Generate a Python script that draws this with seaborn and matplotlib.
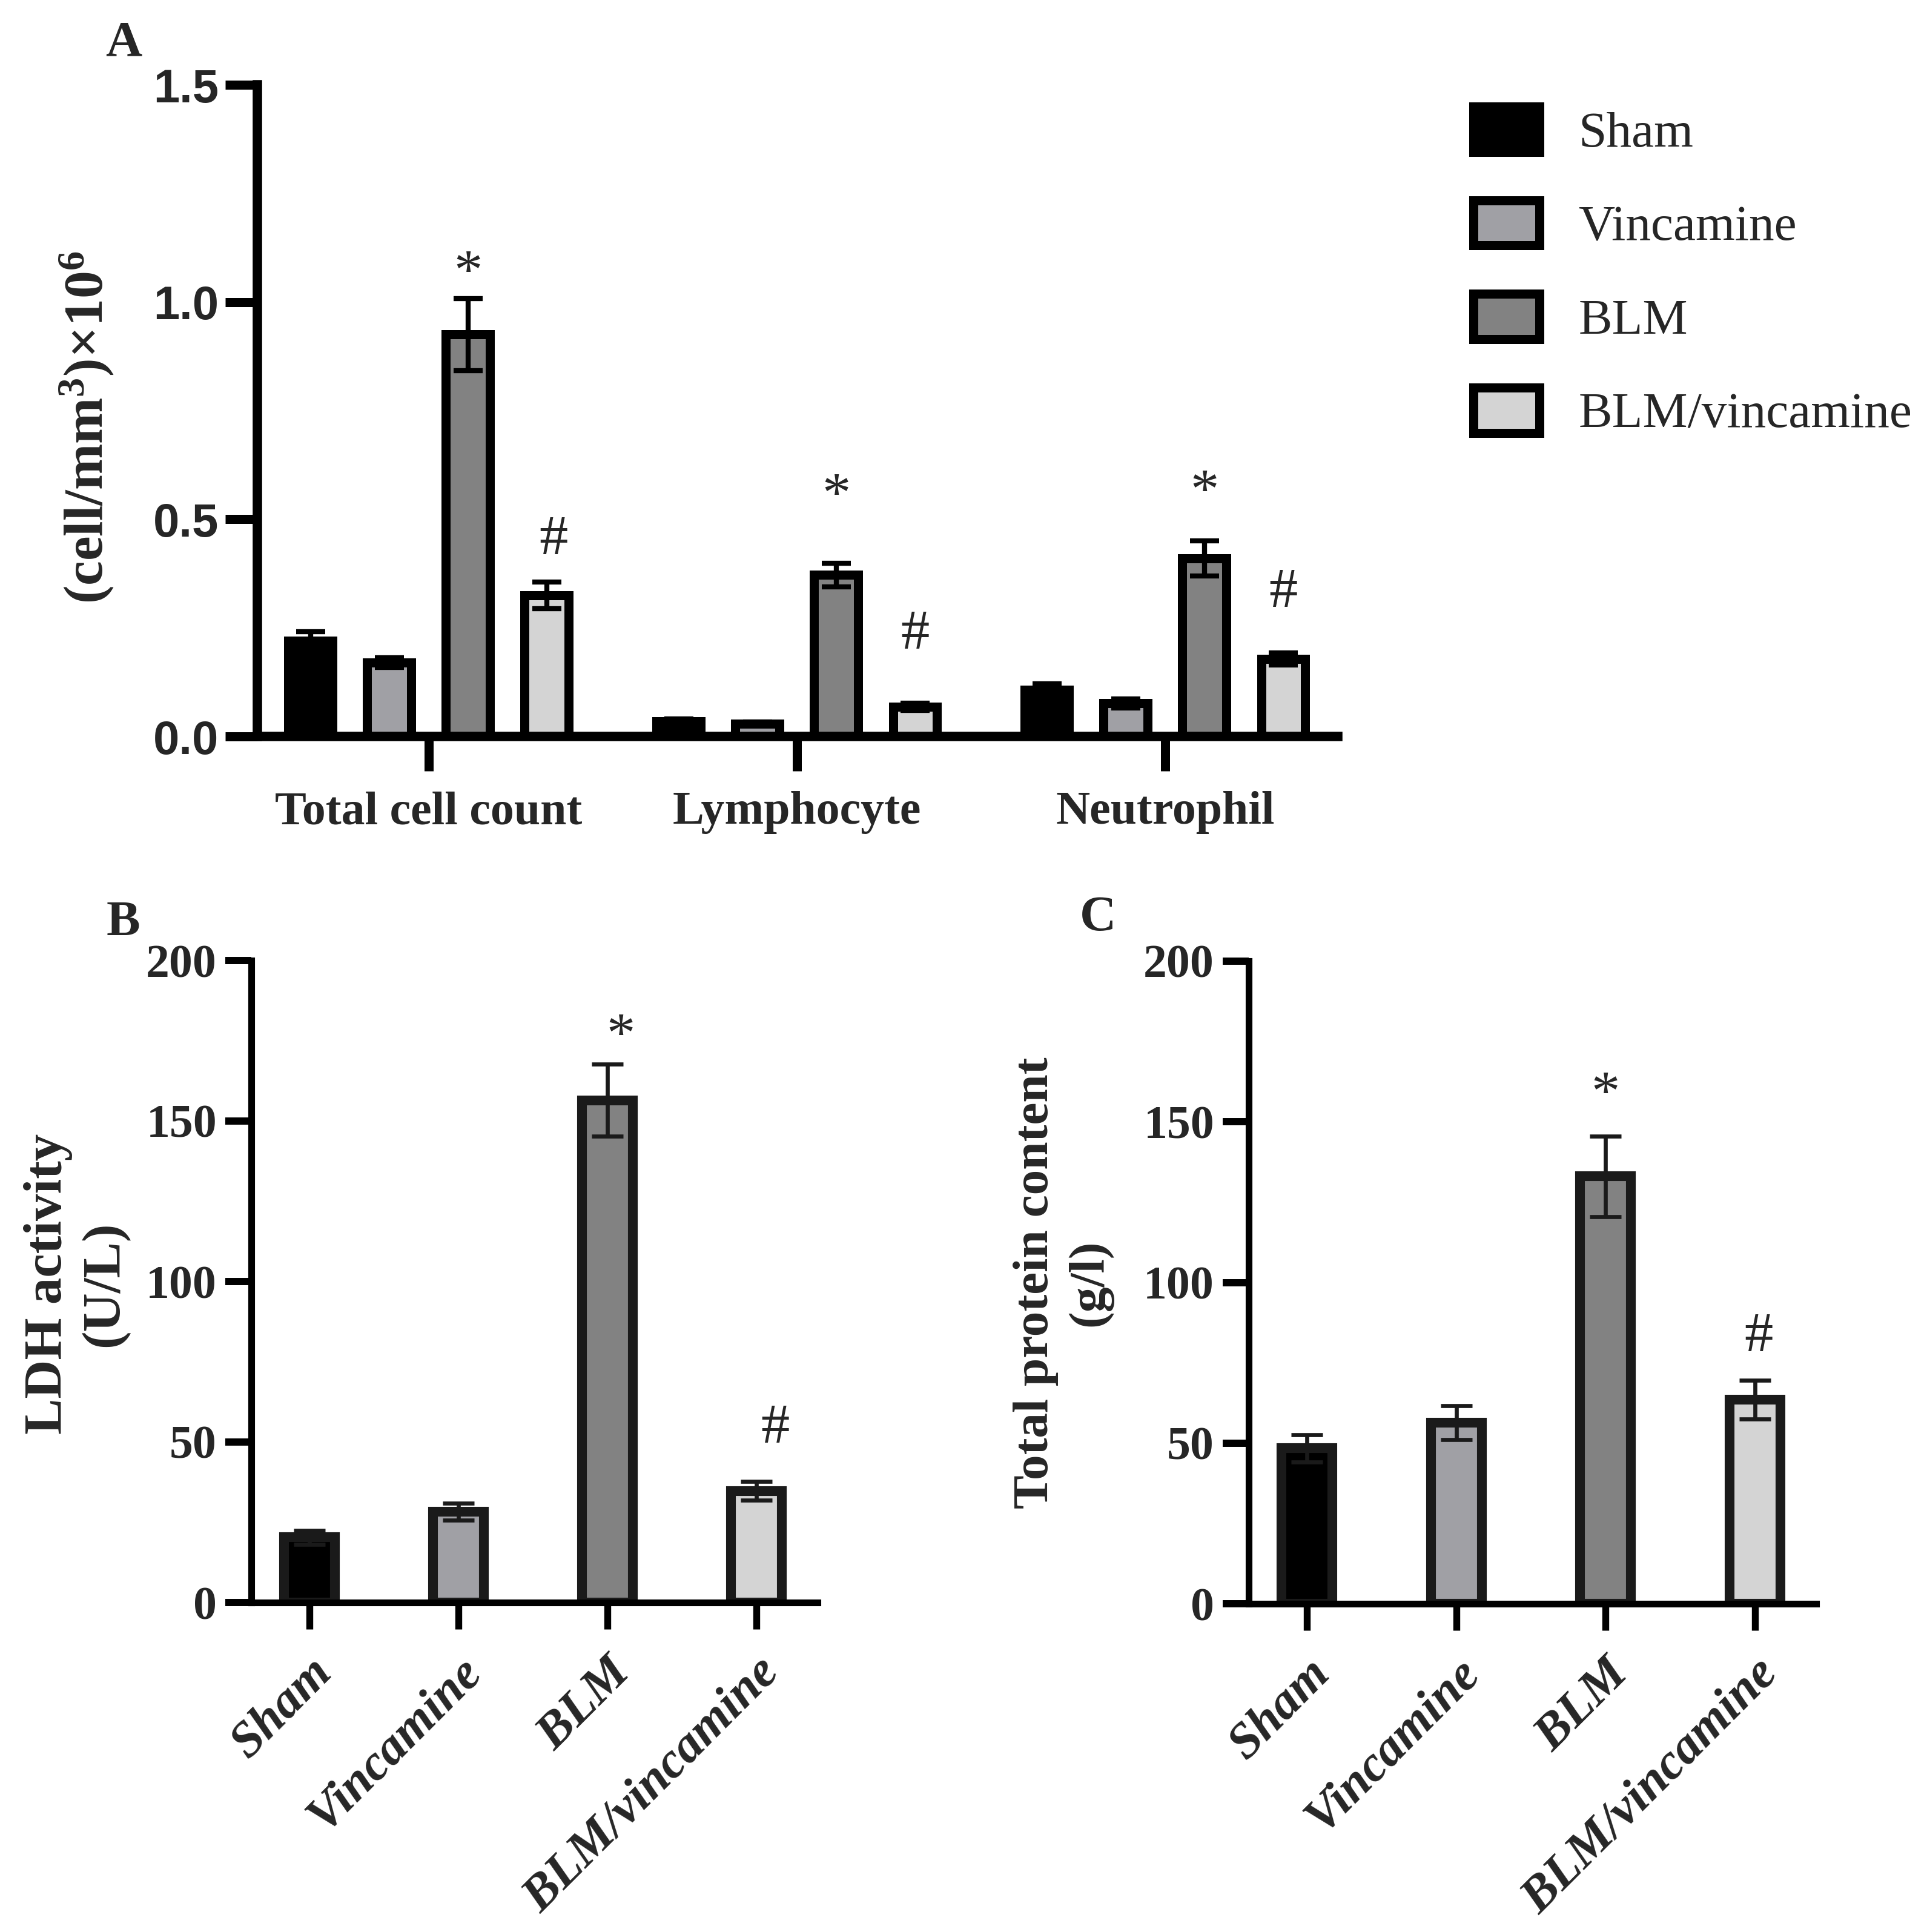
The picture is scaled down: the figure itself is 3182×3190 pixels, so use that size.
import numpy as np
import pandas as pd
import matplotlib
matplotlib.use("Agg")
import matplotlib.pyplot as plt
import seaborn as sns
from matplotlib.ticker import FormatStrFormatter

# ---------------- data ----------------
groups = ["Sham", "Vincamine", "BLM", "BLM/vincamine"]
cells = ["Total cell count", "Lymphocyte", "Neutrophil"]

sham_cells = [0.220, 0.035, 0.107]
sham_cells_err = [0.021, 0.005, 0.014]
vinc_cells = [0.170, 0.029, 0.076]
vinc_cells_err = [0.011, 0.004, 0.010]
blm_cells = [0.925, 0.372, 0.410]
blm_cells_err = [0.083, 0.027, 0.040]
blmv_cells = [0.325, 0.068, 0.178]
blmv_cells_err = [0.031, 0.008, 0.014]

ldh = [20.3, 28.3, 156.5, 34.8]
ldh_err = [2.2, 2.6, 11.2, 2.9]
protein = [48.4, 56.4, 133.0, 63.5]
protein_err = [4.2, 5.3, 12.5, 6.0]

cell_ticks = [0.0, 0.5, 1.0, 1.5]
bc_ticks = [0, 50, 100, 150, 200]

palette = ["#000000", "#A0A0A5", "#828282", "#D4D4D4"]

# ---------------- style ----------------
sns.set_style("white")
plt.rcParams["font.family"] = ["Liberation Serif", "DejaVu Serif"]
plt.rcParams["font.weight"] = "bold"
plt.rcParams["mathtext.fontset"] = "custom"
plt.rcParams["mathtext.rm"] = "Liberation Serif:bold"
plt.rcParams["mathtext.bf"] = "Liberation Serif:bold"
plt.rcParams["mathtext.default"] = "regular"

W, H = 3182, 3190
DPI = 200
fig = plt.figure(figsize=(W / DPI, H / DPI), dpi=DPI)


def fx(px):
    return px / W


def fy(py):
    return 1 - py / H


def style_axes(ax, lw):
    for s in ["top", "right"]:
        ax.spines[s].set_visible(False)
    for s in ["left", "bottom"]:
        ax.spines[s].set_linewidth(lw)
        ax.spines[s].set_color("black")
        ax.spines[s].set_capstyle("projecting")
    ax.set_xlabel("")
    ax.set_ylabel("")


# ---------------- Panel A ----------------
dfA = pd.DataFrame({
    "cell": cells * 4,
    "group": np.repeat(groups, len(cells)),
    "value": sham_cells + vinc_cells + blm_cells + blmv_cells,
})
errsA = [sham_cells_err, vinc_cells_err, blm_cells_err, blmv_cells_err]

axA = fig.add_axes([fx(425), fy(1216), fx(2209) - fx(425), fy(140) - fy(1216)])
sns.barplot(data=dfA, x="cell", y="value", hue="group", order=cells,
            hue_order=groups, palette=palette, saturation=1, width=0.856,
            gap=0.44, errorbar=None, edgecolor="black", linewidth=5.4,
            legend=False, ax=axA)
for cont, errs in zip(axA.containers, errsA):
    xs = [b.get_x() + b.get_width() / 2 for b in cont]
    hs = [b.get_height() for b in cont]
    axA.errorbar(xs, hs, yerr=errs, fmt="none", ecolor="black",
                 elinewidth=3.0, capsize=8.5, capthick=3.0, zorder=5)
axA.set_xlim(-0.465, 2.469)
axA.set_ylim(0, 1.5)
axA.set_yticks(cell_ticks)
axA.yaxis.set_major_formatter(FormatStrFormatter("%.1f"))
style_axes(axA, 5.6)
axA.tick_params(axis="y", length=19, width=5.4, pad=4, labelsize=28,
                color="black", left=True)
axA.tick_params(axis="x", length=20.5, width=5.4, pad=12, labelsize=28,
                color="black", bottom=True)
for lbl in axA.get_yticklabels():
    lbl.set_fontfamily(["Liberation Sans", "DejaVu Sans"])
    lbl.set_fontweight("bold")
for lbl in axA.get_xticklabels():
    lbl.set_fontweight("bold")

marksA = [(2, 0, "*", 23), (3, 0, "#", 28), (2, 1, "*", 48),
          (3, 1, "#", 44), (2, 2, "*", 37), (3, 2, "#", 39)]

CENTER = {"*": 17, "#": 11.5}


def annotate(ax, errs_list, marks, fs=34, dx=None):
    for i, (gi, ci, sym, off) in enumerate(marks):
        bar = ax.containers[gi][ci]
        x = bar.get_x() + bar.get_width() / 2
        y = bar.get_height() + errs_list[gi][ci]
        ddx = 0 if dx is None else dx[i]
        ax.annotate(sym, xy=(x, y), xytext=(ddx, off - CENTER[sym]),
                    textcoords="offset points", ha="center", va="baseline",
                    fontsize=fs, fontweight="normal", annotation_clip=False)


annotate(axA, errsA, marksA, dx=[0, 4, 0, 0, 0, 0])

fig.text(fx(143), fy(705), r"(cell/mm$^{3}$)×10$^{6}$", rotation=90,
         ha="center", va="center", fontsize=33, fontweight="bold")

# legend
fig.legend(handles=axA.containers, labels=groups, loc="upper left",
           bbox_to_anchor=(fx(2433), fy(176)), frameon=False, borderpad=0,
           borderaxespad=0, handlelength=1.31, handleheight=1.0,
           handletextpad=0.77, labelspacing=0.85,
           prop={"family": "Liberation Serif", "weight": "normal", "size": 30})


# ---------------- Panels B and C ----------------
def single_panel(rect, values, errs, marks, dx):
    ax = fig.add_axes(rect)
    df = pd.DataFrame({"group": groups, "value": values})
    sns.barplot(data=df, x="group", y="value", hue="group", order=groups,
                hue_order=groups, palette=palette, saturation=1, width=0.34,
                errorbar=None, edgecolor="#1a1a1a", linewidth=5.8,
                legend=False, ax=ax)
    errs_list = []
    for cont, e in zip(ax.containers, errs):
        xs = [b.get_x() + b.get_width() / 2 for b in cont]
        hs = [b.get_height() for b in cont]
        ax.errorbar(xs, hs, yerr=[e], fmt="none", ecolor="#1a1a1a",
                    elinewidth=2.4, capsize=9.5, capthick=2.4, zorder=5)
        errs_list.append([e])
    ax.set_xlim(-0.39, 3.41)
    ax.set_ylim(0, 200)
    ax.set_yticks(bc_ticks)
    style_axes(ax, 4.0)
    ax.tick_params(axis="y", length=15.5, width=4.3, pad=5, labelsize=28,
                   color="black", left=True)
    ax.tick_params(axis="x", length=16, width=4.1, pad=12, labelsize=30,
                   color="black", bottom=True)
    for lbl in ax.get_yticklabels():
        lbl.set_fontweight("bold")
    for lbl in ax.get_xticklabels():
        lbl.set_rotation(45)
        lbl.set_ha("right")
        lbl.set_va("top")
        lbl.set_rotation_mode("anchor")
        lbl.set_fontstyle("italic")
        lbl.set_fontweight("bold")
    annotate(ax, errs_list, marks, dx=dx)
    return ax


axB = single_panel([fx(415), fy(2646), fx(1350) - fx(415), fy(1586) - fy(2646)],
                   ldh, ldh_err, [(2, 0, "*", 24.5), (3, 0, "#", 34.6)], [8, 11])
axC = single_panel([fx(2062), fy(2648), fx(2999) - fx(2062), fy(1587) - fy(2648)],
                   protein, protein_err, [(2, 0, "*", 32.8), (3, 0, "#", 28.8)], [0, 2])

fig.text(fx(126), fy(2120), "LDH activity\n(U/L)", rotation=90, ha="center",
         va="center", fontsize=32, fontweight="bold", linespacing=1.2,
         multialignment="center")
fig.text(fx(1755), fy(2118), "Total protein content\n(g/l)", rotation=90,
         ha="center", va="center", fontsize=30, fontweight="bold",
         linespacing=1.25, multialignment="center")

# panel letters
fig.text(fx(204), fy(72), "A", ha="center", va="center", fontsize=30, fontweight="bold")
fig.text(fx(203), fy(1524), "B", ha="center", va="center", fontsize=30, fontweight="bold")
fig.text(fx(1813), fy(1516), "C", ha="center", va="center", fontsize=30, fontweight="bold")

fig.savefig("out.png", dpi=DPI, facecolor="white")
